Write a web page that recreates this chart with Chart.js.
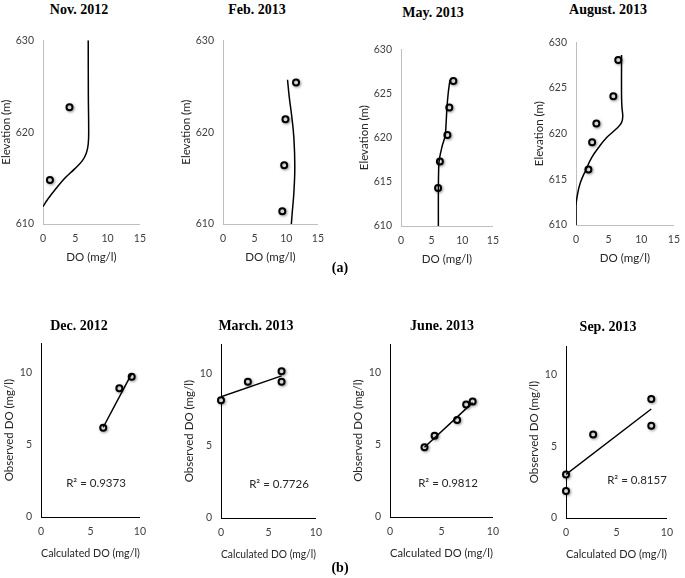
<!DOCTYPE html>
<html><head><meta charset="utf-8">
<script src="https://cdn.jsdelivr.net/npm/chart.js@4.4.1/dist/chart.umd.min.js"></script>
<style>
html,body{margin:0;padding:0;background:#fff;overflow:hidden;}
#wrap{position:relative;width:685px;height:578px;overflow:hidden;}
.t{position:absolute;transform:translate(-50%,-50%);font-family:"Liberation Serif","Times New Roman",serif;font-weight:bold;font-size:14px;white-space:nowrap;color:#000;line-height:1;}
.r2{position:absolute;transform:translate(-50%,-50%);font-family:Lato,sans-serif;font-size:11.5px;color:#262626;white-space:nowrap;line-height:1;}
canvas{position:absolute;}
</style></head><body><div id="wrap"></div>
<script>
// ---- tick labels ----
const profileXTicks = [0, 5, 10, 15];
const elevTicksWide = [610, 620, 630];
const elevTicksFine = [610, 615, 620, 625, 630];
const fitTicks = [0, 5, 10];

// ---- (a) profiles: simulated curve + observed points ----
const novSimDO   = [0, 0.73, 1.95, 3.4, 4.9, 6.1, 6.7, 7.0, 7.07, 7.02, 7.0];
const novSimElev = [611.9, 612.7, 613.8, 615.0, 616.0, 616.9, 617.7, 618.7, 620.1, 623.9, 630];
const novObsDO   = [1.07, 4.1];
const novObsElev = [614.8, 622.7];

const febSimDO   = [10.2, 10.46, 10.85, 11.2, 11.35, 11.2, 10.95, 10.8];
const febSimElev = [625.7, 623.9, 621.8, 619.4, 616.2, 613.4, 611.3, 610];
const febObsDO   = [9.37, 9.67, 9.87, 11.54];
const febObsElev = [611.4, 616.4, 621.4, 625.4];

const maySimDO   = [7.98, 7.7, 7.5, 7.35, 7.2, 6.7, 6.25, 6.15, 6.1, 6.1];
const maySimElev = [626.5, 625, 623.4, 621.5, 620.2, 619, 617.5, 616.5, 614, 610];
const mayObsDO   = [6.05, 6.35, 7.57, 7.88, 8.54];
const mayObsElev = [614.3, 617.3, 620.3, 623.4, 626.4];

const augSimDO   = [6.98, 6.98, 7.05, 7.16, 6.98, 6.14, 4.74, 3.58, 2.42, 1.49, 0.65, 0.19, 0, 0];
const augSimElev = [628.6, 624.0, 622.8, 621.9, 621.2, 620.5, 619.6, 618.6, 617.4, 616.0, 614.6, 613.2, 612.1, 610];
const augObsDO   = [1.9, 2.47, 3.12, 5.72, 6.47];
const augObsElev = [616.07, 619.05, 621.1, 624.1, 628.07];

// ---- (b) calculated vs observed ----
const decCalc = [6.29, 7.92, 9.17];
const decObs  = [6.16, 8.89, 9.69];
const decTrendX = [6.29, 9.17];
const decTrendY = [6.2, 9.9];

const marCalc = [0, 2.83, 6.38, 6.38];
const marObs  = [8.13, 9.42, 10.13, 9.42];
const marTrendX = [0, 6.38];
const marTrendY = [8.37, 9.82];

const junCalc = [3.35, 4.33, 6.52, 7.4, 8.03];
const junObs  = [4.85, 5.64, 6.74, 7.82, 8.02];
const junTrendX = [3.35, 8.03];
const junTrendY = [4.85, 7.95];

const sepCalc = [0, 0, 2.69, 8.45, 8.45];
const sepObs  = [3.04, 1.89, 5.84, 8.31, 6.44];
const sepTrendX = [0, 8.45];
const sepTrendY = [3.04, 7.62];

const r2Labels = ["R\u00B2 = 0.9373", "R\u00B2 = 0.7726", "R\u00B2 = 0.9812", "R\u00B2 = 0.8157"];
const panelTitles = ["Nov. 2012", "Feb. 2013", "May. 2013", "August. 2013", "Dec. 2012", "March. 2013", "June. 2013", "Sep. 2013"];

// ---------------------------------------------------------
const wrap = document.getElementById('wrap');
const zip = (xs, ys) => xs.map((x, i) => ({x: x, y: ys[i]}));

const shadowPlugin = {
  id: 'ptShadow',
  beforeDatasetDraw(chart, args) {
    if (args.index !== 1) return;
    const c = chart.ctx; c.save();
    c.shadowColor = 'rgba(0,0,0,0.35)'; c.shadowBlur = 3; c.shadowOffsetX = 1; c.shadowOffsetY = 1;
  },
  afterDatasetDraw(chart, args) { if (args.index === 1) chart.ctx.restore(); }
};

function makePanel(p) {
  const padT = 8, padR = 8;
  const cl = p.L - p.Wy, ct = p.T - padT;
  const w = p.R + padR - cl, h = p.B + p.Hx - ct;
  const cv = document.createElement('canvas');
  cv.width = w; cv.height = h;
  cv.style.left = cl + 'px'; cv.style.top = ct + 'px';
  cv.style.width = w + 'px'; cv.style.height = h + 'px';
  wrap.appendChild(cv);
  const tickFont = {family: 'Lato', size: 10.5};
  const titleFont = {family: 'Lato', size: 11.5};
  new Chart(cv.getContext('2d'), {
    type: 'scatter',
    data: {datasets: [
      {data: p.line, showLine: true, pointRadius: 0, borderColor: '#000', borderWidth: 1.5, tension: p.tension, fill: false},
      {data: p.pts, showLine: false, pointRadius: 3, pointBorderWidth: 2, pointBorderColor: '#000', pointBackgroundColor: '#fff', clip: false}
    ]},
    options: {
      responsive: false, animation: false, devicePixelRatio: 1, events: [],
      layout: {padding: {left: 0, top: padT, right: padR, bottom: 0}},
      plugins: {legend: {display: false}, tooltip: {enabled: false}},
      scales: {
        x: {type: 'linear', min: p.xMin, max: p.xMax,
          afterBuildTicks: s => { s.ticks = p.xTicks.map(v => ({value: v})); },
          afterFit: s => { s.height = p.Hx; },
          grid: {display: false, drawTicks: false},
          border: {display: true, color: p.axisColor, width: 1},
          ticks: {padding: 8, color: '#404040', font: tickFont, maxRotation: 0, autoSkip: false},
          title: {display: true, text: p.xTitle, color: '#262626', font: titleFont, padding: {top: 0, bottom: 0}}},
        y: {type: 'linear', min: p.yMin, max: p.yMax,
          afterBuildTicks: s => { s.ticks = p.yTicks.map(v => ({value: v})); },
          afterFit: s => { s.width = p.Wy; },
          grid: {display: false, drawTicks: false},
          border: {display: true, color: p.axisColor, width: 1},
          ticks: {padding: 9, color: '#404040', font: tickFont, autoSkip: false},
          title: {display: true, text: p.yTitle, color: '#262626', font: titleFont, padding: {top: 0, bottom: 0}}}
      }
    },
    plugins: [shadowPlugin]
  });
}

function profile(L, T, R, B, simDO, simElev, obsDO, obsElev, yTicks) {
  makePanel({L, T, R, B, Wy: 44, Hx: 40, axisColor: '#bfbfbf',
    xMin: 0, xMax: 15, yMin: 610, yMax: 630, xTicks: profileXTicks, yTicks: yTicks,
    xTitle: 'DO (mg/l)', yTitle: 'Elevation (m)', tension: 0.4,
    line: zip(simDO, simElev), pts: zip(obsDO, obsElev)});
}
function fitPanel(L, T, R, B, calc, obs, tx, ty) {
  makePanel({L, T, R, B, Wy: 39, Hx: 43, axisColor: '#000',
    xMin: 0, xMax: 10, yMin: 0, yMax: 12, xTicks: fitTicks, yTicks: fitTicks,
    xTitle: 'Calculated DO (mg/l)', yTitle: 'Observed DO (mg/l)', tension: 0,
    line: zip(tx, ty), pts: zip(calc, obs)});
}

profile(43, 33, 146, 224, novSimDO, novSimElev, novObsDO, novObsElev, elevTicksWide);
profile(223, 33, 324, 224, febSimDO, febSimElev, febObsDO, febObsElev, elevTicksWide);
profile(401, 42, 499, 226, maySimDO, maySimElev, mayObsDO, mayObsElev, elevTicksFine);
profile(576, 35, 680, 225, augSimDO, augSimElev, augObsDO, augObsElev, elevTicksFine);

fitPanel(41, 336, 146, 517, decCalc, decObs, decTrendX, decTrendY);
fitPanel(221, 337, 322, 518, marCalc, marObs, marTrendX, marTrendY);
fitPanel(390, 337, 499, 517, junCalc, junObs, junTrendX, junTrendY);
fitPanel(566, 339, 673, 518, sepCalc, sepObs, sepTrendX, sepTrendY);

function label(cls, text, x, y) {
  const d = document.createElement('div');
  d.className = cls; d.textContent = text;
  d.style.left = x + 'px'; d.style.top = y + 'px';
  wrap.appendChild(d);
}
const titlePos = [[79, 10], [257, 10], [433, 13], [608, 10], [79, 326], [256, 326], [442, 326], [608, 327]];
panelTitles.forEach((t, i) => label('t', t, titlePos[i][0], titlePos[i][1]));
const r2Pos = [[96, 483], [279, 484], [448, 483], [637, 480]];
r2Labels.forEach((t, i) => label('r2', t, r2Pos[i][0], r2Pos[i][1]));
label('t', '(a)', 340, 268);
label('t', '(b)', 340, 568);
</script>
</body></html>
